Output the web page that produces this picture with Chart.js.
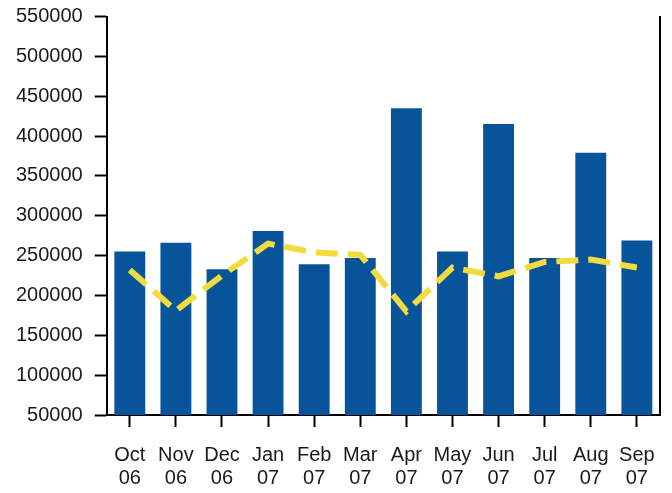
<!DOCTYPE html>
<html>
<head>
<meta charset="utf-8">
<script src="https://cdn.jsdelivr.net/npm/chart.js@4"></script>
<style>
  html, body { margin: 0; padding: 0; background: #fff; overflow: hidden; }
  #wrap { position: relative; top: -7px; width: 672px; height: 514px; }
</style>
</head>
<body>
<div id="wrap"><canvas id="chart"></canvas></div>
<script>
const months = [
    ['Oct', '06'], ['Nov', '06'], ['Dec', '06'], ['Jan', '07'],
    ['Feb', '07'], ['Mar', '07'], ['Apr', '07'], ['May', '07'],
    ['Jun', '07'], ['Jul', '07'], ['Aug', '07'], ['Sep', '07']
];
const barValues = [255000, 266000, 233000, 281000, 239000, 247000, 435000, 255000, 415000, 247000, 379000, 269000];
const lineValues = [232000, 181000, 225000, 265000, 254000, 251000, 180000, 235000, 224000, 242000, 245000, 235000];
const yMin = 50000;
const yMax = 550000;
const yStep = 50000;

const font = { family: '"Liberation Sans", Arial, sans-serif', size: 20, lineHeight: 1.15 };

const config = {
    type: 'bar',
    data: {
        labels: months,
        datasets: [{
            type: 'line',
            data: lineValues,
            borderColor: '#f2db3f',
            borderWidth: 6,
            borderDash: [22, 10],
            pointRadius: 0,
            tension: 0,
            fill: false,
            order: 0
        }, {
            type: 'bar',
            data: barValues,
            backgroundColor: '#08549a',
            categoryPercentage: 1,
            barPercentage: 0.67,
            order: 1
        }]
    },
    options: {
        responsive: true,
        maintainAspectRatio: false,
        animation: false,
        layout: { padding: { top: 0, right: 8, bottom: 0, left: 4 } },
        plugins: {
            legend: { display: false },
            tooltip: { enabled: false }
        },
        scales: {
            x: {
                grid: {
                    offset: false,
                    drawOnChartArea: false,
                    tickLength: 12,
                    tickColor: '#000',
                    tickWidth: 2
                },
                border: { display: true, color: '#000', width: 2 },
                ticks: {
                    color: '#1a1a1a',
                    font: font,
                    padding: 17,
                    maxRotation: 0,
                    autoSkip: false
                }
            },
            y: {
                min: yMin,
                max: yMax,
                grid: {
                    drawOnChartArea: false,
                    tickLength: 12,
                    tickColor: '#000',
                    tickWidth: 2
                },
                border: { display: true, color: '#000', width: 2 },
                ticks: {
                    stepSize: yStep,
                    color: '#1a1a1a',
                    font: font,
                    padding: 12,
                    callback: (v) => String(v)
                }
            },
            y2: {
                position: 'right',
                min: yMin,
                max: yMax,
                grid: { display: false, drawTicks: false },
                ticks: { display: false },
                border: { display: true, color: '#000', width: 2 }
            }
        }
    }
};

new Chart(document.getElementById('chart'), config);
</script>
</body>
</html>
